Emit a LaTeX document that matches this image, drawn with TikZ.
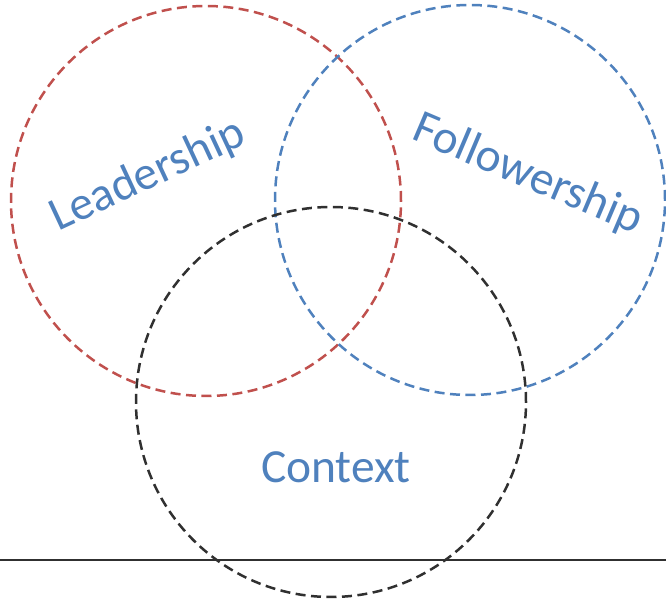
\documentclass[tikz,border=0pt]{standalone}
\usepackage{fontspec}
\setmainfont{Carlito}
\definecolor{cred}{HTML}{C0504D}
\definecolor{cblue}{HTML}{4F81BD}
\definecolor{cdark}{HTML}{303030}
\begin{document}
\begin{tikzpicture}[x=1pt,y=1pt,
  ring/.style={circle,draw,line width=2.5pt,dash pattern=on 10pt off 5.5pt,minimum size=390pt,inner sep=0pt},
  lbl/.style={text=cblue,font=\fontsize{47.5}{52}\selectfont,inner sep=0pt}]
\useasboundingbox (0,0) rectangle (666,599);
\node[ring,draw=cred] (lead) at (206,398) {};
\node[ring,draw=cblue] (foll) at (470,399) {};
\node[ring,draw=cdark] (ctx) at (331,197) {};
\coordinate (l0) at (0,39);
\coordinate (l1) at (666,39);
\draw[cdark,line width=1.6pt] (l0) -- (l1);
\node[lbl,rotate=25] (tl) at (148,423) {Leadership};
\node[lbl,rotate=-23] (tf) at (528,424) {Followership};
\node[lbl] (tc) at (336,132) {Context};
\end{tikzpicture}
\end{document}
